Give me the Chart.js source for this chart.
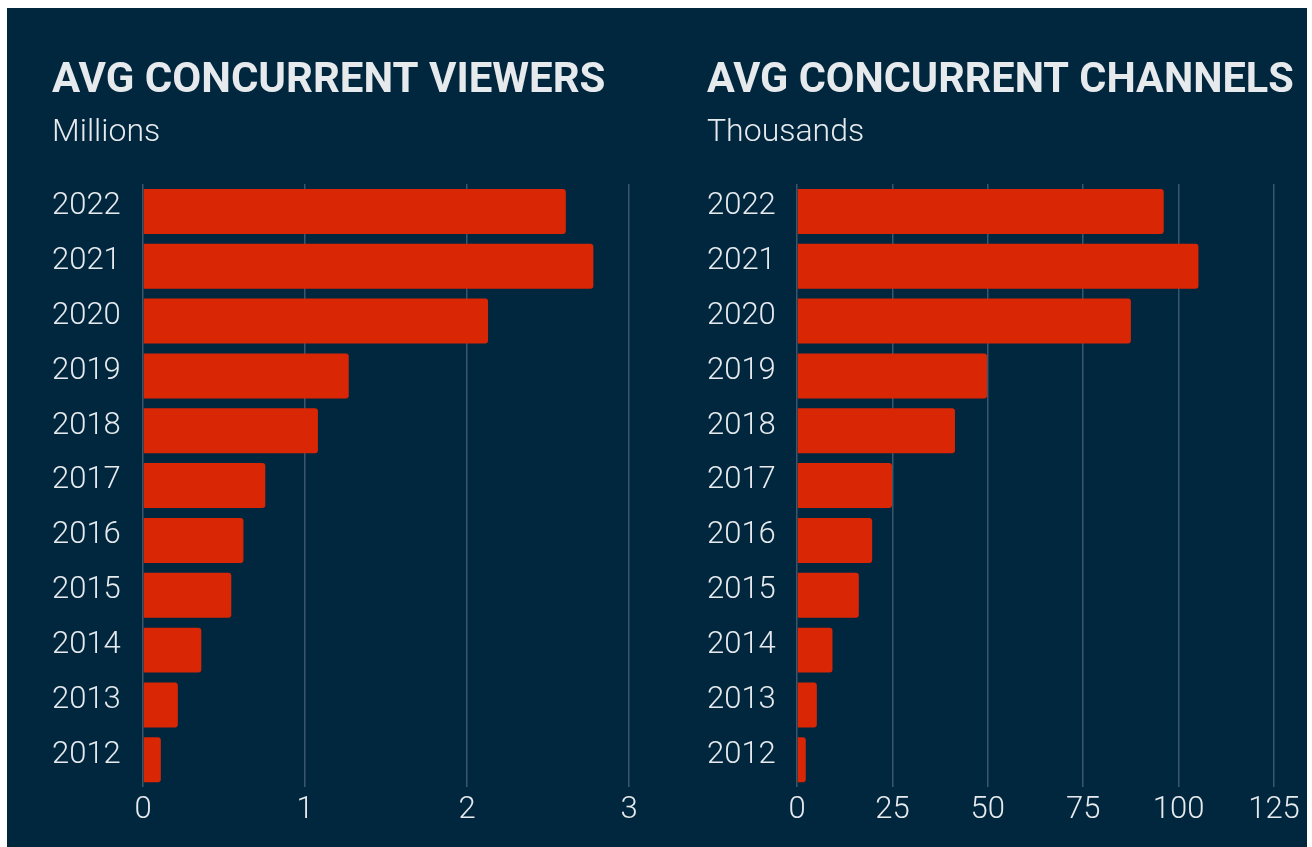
<!DOCTYPE html>
<html>
<head>
<meta charset="utf-8">
<script src="https://cdn.jsdelivr.net/npm/chart.js@4"></script>
<style>
  html, body { margin: 0; padding: 0; background: #ffffff; }
  #panel { position: absolute; left: 7px; top: 8px; width: 1300px; height: 839px; background: #01273f; }
  .box { position: absolute; top: 0; height: 839px; }
  #leftBox { left: 0; width: 648px; }
  #rightBox { left: 648px; width: 652px; }
</style>
</head>
<body>
<div id="panel">
  <div class="box" id="leftBox"><canvas id="viewersChart"></canvas></div>
  <div class="box" id="rightBox"><canvas id="channelsChart"></canvas></div>
</div>
<script>
// years, top row first
const years = ["2022", "2021", "2020", "2019", "2018", "2017", "2016", "2015", "2014", "2013", "2012"];
// average concurrent viewers, millions
const viewers = [2.61, 2.78, 2.13, 1.27, 1.08, 0.755, 0.62, 0.545, 0.36, 0.215, 0.11];
// average concurrent channels, thousands
const channels = [96.1, 105.2, 87.5, 49.8, 41.4, 24.9, 19.7, 16.2, 9.3, 5.2, 2.3];
const viewerTicks = [0, 1, 2, 3];
const channelTicks = [0, 25, 50, 75, 100, 125];

const textColor = "#e7eaed";
const gridColor = "#3a566b";
const barColor = "#d92604";

function makeChart(canvasId, title, subtitle, values, tickValues, pad) {
    const chart = new Chart(document.getElementById(canvasId), {
        type: "bar",
        data: {
            labels: years,
            datasets: [{
                data: values,
                backgroundColor: barColor,
                borderRadius: 3,
                barPercentage: 0.82,
                categoryPercentage: 1,
            }],
        },
        options: {
            indexAxis: "y",
            responsive: true,
            maintainAspectRatio: false,
            animation: false,
            layout: { padding: pad },
            plugins: {
                legend: { display: false },
                tooltip: { enabled: false },
                title: {
                    display: true,
                    text: title,
                    align: "start",
                    color: textColor,
                    font: { family: "Roboto", weight: "700", size: 42 },
                    padding: { top: 48.5, bottom: 7 },
                },
                subtitle: {
                    display: true,
                    text: subtitle,
                    align: "start",
                    color: textColor,
                    font: { family: "Roboto", weight: "300", size: 32 },
                    padding: { top: 0, bottom: 31.7 },
                },
            },
            scales: {
                x: {
                    min: 0,
                    max: tickValues[tickValues.length - 1],
                    afterBuildTicks: (scale) => { scale.ticks = tickValues.map((v) => ({ value: v })); },
                    grid: { color: gridColor, lineWidth: 1.5, drawTicks: false },
                    border: { display: false },
                    ticks: {
                        color: textColor,
                        padding: 4,
                        font: { family: "Roboto", weight: "300", size: 31 },
                    },
                },
                y: {
                    grid: { display: false },
                    border: { display: false },
                    afterFit: (scale) => { scale.width = pad.axis; },
                    ticks: {
                        color: textColor,
                        crossAlign: "far",
                        labelOffset: -5,
                        font: { family: "Roboto", weight: "300", size: 31 },
                    },
                },
            },
        },
    });

    // the original title face runs a bit wider on this word set, stretch it horizontally
    if (pad.titleStretch) {
        const tb = chart.titleBlock;
        const origDraw = tb.draw.bind(tb);
        tb.draw = function () {
            const ctx = chart.ctx;
            ctx.save();
            ctx.translate(tb.left, 0);
            ctx.scale(pad.titleStretch, 1);
            ctx.translate(-tb.left, 0);
            origDraw();
            ctx.restore();
        };
        chart.draw();
    }
    return chart;
}

(async function init() {
    try {
        await Promise.all([
            document.fonts.load("700 42px Roboto"),
            document.fonts.load("300 31px Roboto"),
        ]);
    } catch (e) {}
    makeChart("viewersChart", "AVG CONCURRENT VIEWERS", "Millions", viewers, viewerTicks,
        { left: 45, right: 26, top: 0, bottom: 14.6, axis: 91 });
    makeChart("channelsChart", "AVG CONCURRENT CHANNELS", "Thousands", channels, channelTicks,
        { left: 52, right: 33, top: 0, bottom: 14.6, axis: 90, titleStretch: 1.035 });
})();
</script>
</body>
</html>
